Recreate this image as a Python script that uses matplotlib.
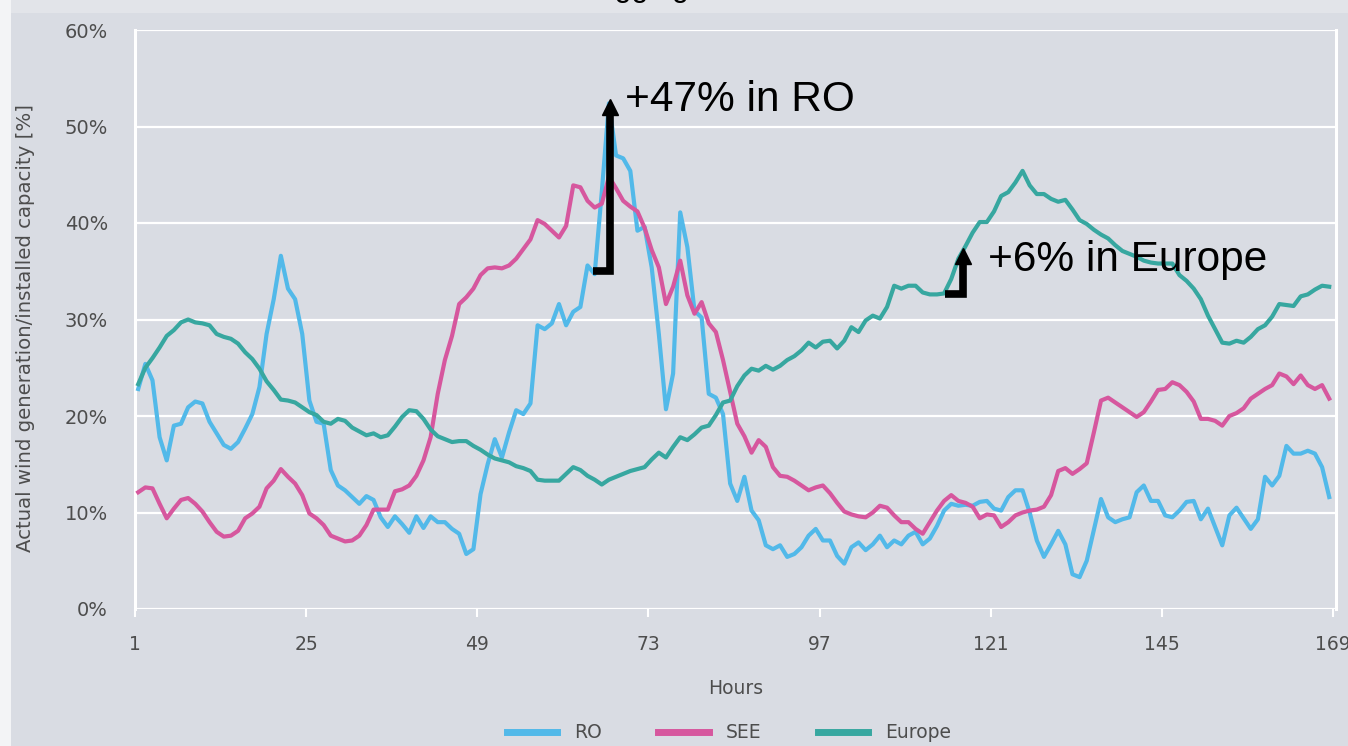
import numpy as np
import matplotlib
matplotlib.use("Agg")
import matplotlib.pyplot as plt
from matplotlib.lines import Line2D
from matplotlib.patches import Rectangle

# hourly values, % of installed capacity
hours = np.arange(1, 169)

ro = [22.8, 25.4, 23.7, 17.8, 15.4, 19.0, 19.2, 20.9, 21.5, 21.3,
      19.4, 18.2, 17.0, 16.6, 17.3, 18.7, 20.2, 23.0, 28.5, 32.1,
      36.6, 33.2, 32.1, 28.5, 21.6, 19.4, 19.2, 14.4, 12.8, 12.3,
      11.6, 10.9, 11.7, 11.3, 9.5, 8.5, 9.6, 8.8, 7.9, 9.6,
      8.4, 9.6, 9.0, 9.0, 8.3, 7.8, 5.7, 6.2, 11.9, 15.0,
      17.6, 15.7, 18.3, 20.6, 20.2, 21.3, 29.4, 29.0, 29.6, 31.6,
      29.4, 30.8, 31.3, 35.6, 34.7, 43.2, 52.4, 47.0, 46.7, 45.4,
      39.2, 39.6, 35.4, 28.5, 20.7, 24.4, 41.1, 37.5, 30.9, 30.2,
      22.3, 21.9, 20.2, 13.0, 11.2, 13.7, 10.2, 9.2, 6.6, 6.2,
      6.6, 5.4, 5.7, 6.4, 7.6, 8.3, 7.1, 7.1, 5.5, 4.7,
      6.4, 6.9, 6.1, 6.7, 7.6, 6.4, 7.1, 6.7, 7.6, 8.0,
      6.7, 7.3, 8.6, 10.2, 10.9, 10.7, 10.8, 10.7, 11.1, 11.2,
      10.4, 10.2, 11.6, 12.3, 12.3, 10.0, 7.1, 5.4, 6.7, 8.1,
      6.7, 3.6, 3.3, 5.0, 8.2, 11.4, 9.5, 9.0, 9.3, 9.5,
      12.1, 12.8, 11.2, 11.2, 9.7, 9.5, 10.2, 11.1, 11.2, 9.3,
      10.4, 8.5, 6.6, 9.7, 10.5, 9.4, 8.3, 9.3, 13.7, 12.8,
      13.8, 16.9, 16.1, 16.1, 16.4, 16.1, 14.7, 11.6]

see = [12.1, 12.6, 12.5, 10.9, 9.4, 10.4, 11.3, 11.5, 10.9, 10.1,
       9.0, 8.0, 7.5, 7.6, 8.1, 9.4, 9.9, 10.6, 12.5, 13.3,
       14.5, 13.7, 13.0, 11.8, 9.9, 9.4, 8.7, 7.6, 7.3, 7.0,
       7.1, 7.6, 8.7, 10.3, 10.3, 10.3, 12.2, 12.4, 12.8, 13.8,
       15.4, 17.8, 22.3, 25.8, 28.3, 31.6, 32.3, 33.2, 34.6, 35.3,
       35.4, 35.3, 35.6, 36.3, 37.3, 38.3, 40.3, 39.9, 39.2, 38.5,
       39.7, 43.9, 43.7, 42.3, 41.6, 42.0, 44.8, 43.6, 42.3, 41.7,
       41.2, 39.5, 37.2, 35.4, 31.6, 33.4, 36.1, 32.5, 30.6, 31.8,
       29.6, 28.7, 25.8, 22.5, 19.2, 17.9, 16.2, 17.5, 16.8, 14.7,
       13.8, 13.7, 13.3, 12.8, 12.3, 12.6, 12.8, 12.0, 11.0, 10.1,
       9.8, 9.6, 9.5, 10.0, 10.7, 10.5, 9.7, 9.0, 9.0, 8.3,
       7.8, 9.0, 10.2, 11.2, 11.8, 11.2, 11.0, 10.6, 9.4, 9.8,
       9.7, 8.5, 9.0, 9.7, 10.0, 10.2, 10.3, 10.6, 11.8, 14.3,
       14.6, 14.0, 14.5, 15.1, 18.3, 21.6, 21.9, 21.4, 20.9, 20.4,
       19.9, 20.4, 21.5, 22.7, 22.8, 23.5, 23.2, 22.5, 21.5, 19.7,
       19.7, 19.5, 19.0, 20.0, 20.3, 20.8, 21.8, 22.3, 22.8, 23.2,
       24.4, 24.1, 23.3, 24.2, 23.2, 22.8, 23.2, 21.8]

europe = [23.3, 25.0, 26.0, 27.1, 28.3, 28.9, 29.7, 30.0, 29.7, 29.6,
          29.4, 28.5, 28.2, 28.0, 27.5, 26.6, 25.9, 24.9, 23.6, 22.7,
          21.7, 21.6, 21.4, 20.9, 20.4, 20.1, 19.4, 19.2, 19.7, 19.5,
          18.8, 18.4, 18.0, 18.2, 17.8, 18.0, 18.9, 19.9, 20.6, 20.5,
          19.7, 18.6, 17.9, 17.6, 17.3, 17.4, 17.4, 16.9, 16.5, 16.0,
          15.6, 15.4, 15.2, 14.8, 14.6, 14.3, 13.4, 13.3, 13.3, 13.3,
          14.0, 14.7, 14.4, 13.8, 13.4, 12.9, 13.4, 13.7, 14.0, 14.3,
          14.5, 14.7, 15.5, 16.2, 15.7, 16.8, 17.8, 17.5, 18.1, 18.8,
          19.0, 20.1, 21.4, 21.6, 23.1, 24.2, 24.9, 24.7, 25.2, 24.8,
          25.2, 25.8, 26.2, 26.8, 27.6, 27.1, 27.7, 27.8, 27.0, 27.8,
          29.2, 28.7, 29.9, 30.4, 30.1, 31.3, 33.5, 33.2, 33.5, 33.5,
          32.8, 32.6, 32.6, 32.7, 34.2, 36.3, 37.6, 39.0, 40.1, 40.1,
          41.2, 42.8, 43.2, 44.2, 45.4, 43.9, 43.0, 43.0, 42.5, 42.2,
          42.4, 41.4, 40.3, 39.9, 39.3, 38.8, 38.4, 37.7, 37.1, 36.8,
          36.5, 36.1, 35.9, 35.8, 35.8, 35.8, 34.6, 34.0, 33.2, 32.1,
          30.4, 29.0, 27.6, 27.5, 27.8, 27.6, 28.2, 29.0, 29.4, 30.3,
          31.6, 31.5, 31.4, 32.4, 32.6, 33.1, 33.5, 33.4]

series_names = ["RO", "SEE", "Europe"]
series_colors = ["#52b9e9", "#d6579e", "#37a7a0"]
xticks = [1, 25, 49, 73, 97, 121, 145, 169]
yticks = [0, 10, 20, 30, 40, 50, 60]

bg = "#d9dce3"
label_grey = "#4d4d4d"

fig = plt.figure(figsize=(13.48, 7.46), dpi=100, facecolor=bg)
# light frame strips seen at the top/left edge of the screenshot
fig.patches.append(Rectangle((0, 0), 11 / 1348, 1, transform=fig.transFigure,
                             facecolor="#f3f4f6", edgecolor="none", zorder=0))
fig.patches.append(Rectangle((11 / 1348, 1 - 13 / 746), 1, 13 / 746,
                             transform=fig.transFigure, facecolor="#e2e4e9",
                             edgecolor="none", zorder=0))
# title, cut off at the very top as in the screenshot
fig.text(640 / 1348, 1 + 4 / 746, "lagging", ha="center", va="baseline",
         fontsize=22, family="Liberation Sans", color="black")

ax = fig.add_axes([135 / 1348, 1 - 609 / 746, 1201 / 1348, 579 / 746])
ax.set_facecolor(bg)

xpos = hours + 0.45
for vals, name, col in zip([ro, see, europe], series_names, series_colors):
    ax.plot(xpos, vals, color=col, lw=3, label=name, zorder=3,
            solid_joinstyle="round")

ax.set_xlim(1, 169.4)
ax.set_ylim(0, 60)
ax.set_xticks(xticks)
ax.set_yticks(yticks)
ax.set_yticklabels([f"{v}%" for v in yticks])
ax.grid(axis="y", color="white", lw=1.6, zorder=1)
ax.set_axisbelow(True)

for s in ["top", "bottom"]:
    ax.spines[s].set_visible(False)
for s in ["left", "right"]:
    ax.spines[s].set_color("white")
    ax.spines[s].set_linewidth(2.2)

ax.tick_params(axis="x", colors="white", length=6, width=1.5, pad=13,
               labelcolor=label_grey, labelsize=13.5)
ax.tick_params(axis="y", length=0, pad=19.5, labelcolor=label_grey,
               labelsize=14)

ax.set_xlabel("Hours", fontsize=13.5, color=label_grey, labelpad=18)
ax.set_ylabel("Actual wind generation/installed capacity [%]", fontsize=14.2,
              color=label_grey)
ax.yaxis.set_label_coords(-0.083, 0.485)

# call-out arrows (hand drawn in the original)
ax.plot([65.25, 67.55, 67.55], [35.0, 35.0, 51.6], color="black", lw=5.5,
        solid_joinstyle="miter", solid_capstyle="butt", zorder=5)
ax.plot([67.55], [52.0], marker="^", ms=11, color="black", zorder=5)
ax.text(69.7, 51.6, "+47% in RO", fontsize=30.5, family="Liberation Sans",
        color="black", va="baseline", zorder=6)

ax.plot([114.6, 117.15, 117.15], [32.6, 32.6, 36.1], color="black", lw=5.5,
        solid_joinstyle="miter", solid_capstyle="butt", zorder=5)
ax.plot([117.15], [36.6], marker="^", ms=11, color="black", zorder=5)
ax.text(120.6, 35.0, "+6% in Europe", fontsize=30.5, family="Liberation Sans",
        color="black", va="baseline", zorder=6)

handles = [Line2D([0], [0], color=c, lw=5) for c in series_colors]
leg = fig.legend(handles, series_names, loc="center",
                 bbox_to_anchor=(729 / 1348, 1 - 733 / 746), ncol=3,
                 frameon=False, fontsize=13.5, handlelength=2.7,
                 handletextpad=0.9, columnspacing=3.0)
for t in leg.get_texts():
    t.set_color(label_grey)

fig.savefig("out.png", dpi=100, facecolor=bg)
